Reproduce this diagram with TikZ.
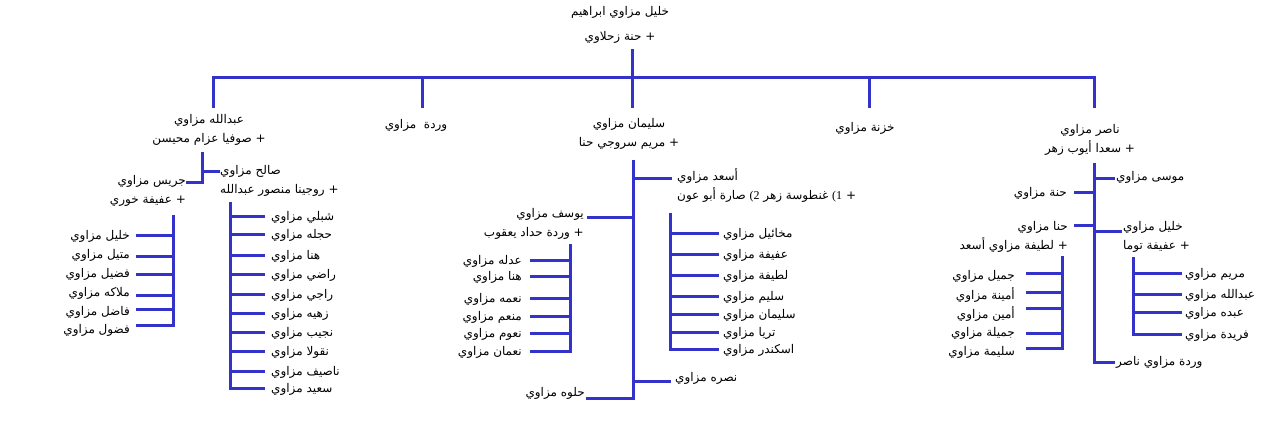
\documentclass[tikz,border=0pt]{standalone}
\usepackage{fontspec}
\newfontfamily\arabicfont[Script=Arabic]{DejaVu Sans}
\newfontfamily\numfont{Liberation Serif}
\TeXXeTstate=1
\usetikzlibrary{positioning}
\definecolor{treeblue}{RGB}{51,51,204}
\newcommand\artxt[1]{\beginR #1\endR}

\begin{document}
\begin{tikzpicture}[x=1pt,y=-1pt,
  bar/.style={draw=treeblue,line width=3pt,line cap=rect},
  who/.style={inner sep=0pt,font=\arabicfont\fontsize{12}{19}\selectfont},
  kid/.style={who,anchor=#1}]
  \useasboundingbox (0,0) rectangle (1267,435);
  % ---- grandparents
  \node[who,align=center] (root) at (620,25) {\artxt{خليل مزاوي ابراهيم}\\[6pt]\artxt{+ حنة زحلاوي}};
  \coordinate (top) at (632,51);
  \coordinate (mid) at (632,78);
  \foreach \x/\n in {213/abd,422/war,632/sul,869/khz,1094/nas}
    \coordinate (d-\n) at (\x,107);
  \draw[bar] (d-abd) -- (d-abd |- mid) -- (d-nas |- mid) -- (d-nas);
  \draw[bar] (top) -- (d-sul);
  \foreach \n in {war,khz} \draw[bar] (d-\n |- mid) -- (d-\n);
  % ---- children
  \node[who,align=center] (abd) at (209,130) {\artxt{عبدالله مزاوي}\\\artxt{+ صوفيا عزام محيسن}};
  \node[who] (war) at (416,125) {\artxt{وردة\ \ مزاوي}};
  \node[who,align=center] (sul) at (629,134) {\artxt{سليمان مزاوي}\\\artxt{+ مريم سروجي حنا}};
  \node[who] (khz) at (865,128) {\artxt{خزنة مزاوي}};
  \node[who,align=center] (nas) at (1090,140) {\artxt{ناصر مزاوي}\\\artxt{+ سعدا أيوب زهر}};
  % ---- Abdallah
  \coordinate (abd-v) at (202,154);
  \node[who,anchor=west,align=left] (sal) at (220,181) {\artxt{صالح مزاوي}\\\artxt{+ روجينا منصور عبدالله}};
  \node[who,anchor=east,align=right] (jir) at (186,190.5) {\artxt{جريس مزاوي}\\\artxt{+ عفيفة خوري}};
  \coordinate (sal-j) at (218,172);
  \coordinate (jir-j) at (187,183);
  \draw[bar] (abd-v) -- (abd-v |- jir-j) -- (jir-j);
  \draw[bar] (abd-v |- sal-j) -- (sal-j);
  \coordinate (jir-v) at (173,217);
  \foreach \y/\ly/\t [count=\i] in {236/236/خليل مزاوي,257/255/متيل مزاوي,275/274/فضيل مزاوي,296/293/ملاكه مزاوي,310/312/فاضل مزاوي,326/330/فضول مزاوي}{
    \node[kid=east] (jir\i) at (130,\ly) {\artxt{\t}};
    \coordinate (jir\i-j) at (137,\y);
    \draw[bar] (jir\i-j) -- (jir\i-j -| jir-v);
  }
  \draw[bar] (jir-v) -- (jir-v |- jir6-j);
  \coordinate (sal-v) at (230,204);
  \foreach \y/\t [count=\i] in {217/شبلي مزاوي,235/حجله مزاوي,256/هنا مزاوي,275/راضي مزاوي,295/راجي مزاوي,314/زهيه مزاوي,333/نجيب مزاوي,352/نقولا مزاوي,372/ناصيف مزاوي,389/سعيد مزاوي}{
    \node[kid=west] (sal\i) at (271,\y) {\artxt{\t}};
    \draw[bar] ([xshift=-8]sal\i.west) -- (sal\i.west -| sal-v);
  }
  \draw[bar] (sal-v) -- (sal-v |- sal10.west);
  % ---- Suleiman
  \coordinate (sul-v) at (633,162);
  \node[who,anchor=west,align=left] (asa) at (677,185.5) {\artxt{أسعد مزاوي}\\\artxt{+ {\numfont(1} غنطوسة زهر {\numfont(2} صارة أبو عون}};
  \node[who,anchor=east,align=right] (yus) at (584,223.5) {\artxt{يوسف مزاوي}\\\artxt{+ وردة حداد يعقوب}};
  \node[kid=west] (nsr) at (675,378) {\artxt{نصره مزاوي}};
  \node[kid=east] (hlw) at (585,393) {\artxt{حلوه مزاوي}};
  \coordinate (asa-j) at (670,179);
  \coordinate (yus-j) at (588,218);
  \coordinate (nsr-j) at (669,382);
  \coordinate (hlw-j) at (587,399);
  \draw[bar] (sul-v) -- (sul-v |- hlw-j) -- (hlw-j);
  \foreach \n in {asa,yus,nsr} \draw[bar] (sul-v |- \n-j) -- (\n-j);
  \coordinate (yus-v) at (570,246);
  \foreach \y/\t [count=\i] in {261/عدله مزاوي,277/هنا مزاوي,299/نعمه مزاوي,317/منعم مزاوي,334/نعوم مزاوي,352/نعمان مزاوي}{
    \node[kid=east] (yus\i) at (522,\y) {\artxt{\t}};
    \draw[bar] ([xshift=9]yus\i.east) -- (yus\i.east -| yus-v);
  }
  \draw[bar] (yus-v) -- (yus-v |- yus6.east);
  \coordinate (asa-v) at (670,215);
  \foreach \y/\t [count=\i] in {234/مخائيل مزاوي,255/عفيفة مزاوي,276/لطيفة مزاوي,297/سليم مزاوي,315/سليمان مزاوي,333/تريا مزاوي,350/اسكندر مزاوي}{
    \node[kid=west] (asa\i) at (723,\y) {\artxt{\t}};
    \draw[bar] ([xshift=-6]asa\i.west) -- (asa\i.west -| asa-v);
  }
  \draw[bar] (asa-v) -- (asa-v |- asa7.west);
  % ---- Nasser
  \coordinate (nas-v) at (1094,165);
  \node[kid=west] (mus) at (1116,177) {\artxt{موسى مزاوي}};
  \node[kid=east] (hnh) at (1067,193) {\artxt{حنة مزاوي}};
  \node[who,anchor=east,align=right] (hna) at (1068,236.5) {\artxt{حنا مزاوي}\\\artxt{+ لطيفة مزاوي أسعد}};
  \node[who,anchor=west,align=left] (khl) at (1123,236.5) {\artxt{خليل مزاوي}\\\artxt{+ عفيفة توما}};
  \node[kid=west] (wrd) at (1116,362) {\artxt{وردة مزاوي ناصر}};
  \coordinate (mus-j) at (1113,179);
  \coordinate (hnh-j) at (1075,193);
  \coordinate (hna-j) at (1075,226);
  \coordinate (khl-j) at (1120,232);
  \coordinate (wrd-j) at (1113,363);
  \draw[bar] (nas-v) -- (nas-v |- wrd-j) -- (wrd-j);
  \foreach \n in {mus,hnh,hna,khl} \draw[bar] (nas-v |- \n-j) -- (\n-j);
  \coordinate (hna-v) at (1062,258);
  \foreach \y/\ly/\t [count=\i] in {274/276/جميل مزاوي,293/295/أمينة مزاوي,309/314/أمين مزاوي,334/333/جميلة مزاوي,349/352/سليمة مزاوي}{
    \node[kid=east] (hna\i) at (1015,\ly) {\artxt{\t}};
    \coordinate (hna\i-j) at (1027,\y);
    \draw[bar] (hna\i-j) -- (hna\i-j -| hna-v);
  }
  \draw[bar] (hna-v) -- (hna-v |- hna5-j);
  \coordinate (khl-v) at (1133,259);
  \foreach \y/\t [count=\i] in {274/مريم مزاوي,295/عبدالله مزاوي,313/عبده مزاوي,335/فريدة مزاوي}{
    \node[kid=west] (khl\i) at (1185,\y) {\artxt{\t}};
    \draw[bar] ([xshift=-5]khl\i.west) -- (khl\i.west -| khl-v);
  }
  \draw[bar] (khl-v) -- (khl-v |- khl4.west);
\end{tikzpicture}
\end{document}
